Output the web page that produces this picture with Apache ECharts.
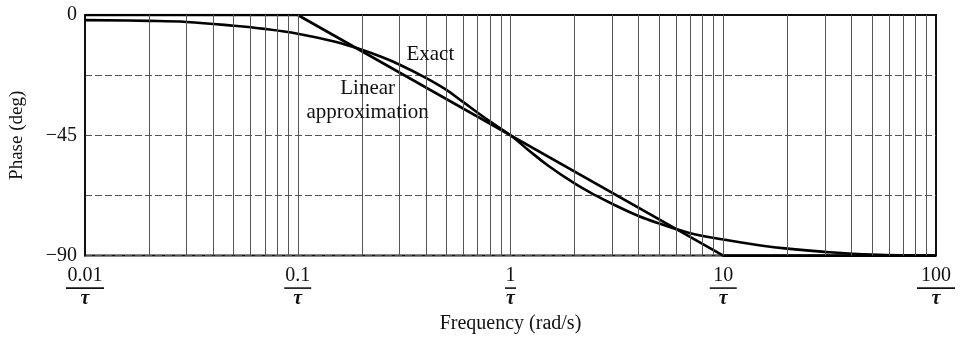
<!DOCTYPE html>
<html>
<head>
<meta charset="utf-8">
<script src="https://cdn.jsdelivr.net/npm/echarts@6/dist/echarts.min.js"></script>
<style>
  html, body { margin: 0; padding: 0; background: #fff; }
  #chart { width: 963px; height: 339px; }
</style>
</head>
<body>
<div id="chart"></div>
<script>
// Normalised frequency ωτ and phase of a first-order lag (degrees)
const exactFreq  = [0.01, 0.02, 0.03, 0.05, 0.07, 0.1, 0.15, 0.2, 0.25, 0.3, 0.4, 0.5, 0.6, 0.8, 1, 1.2, 1.5, 2, 2.5, 3, 4, 5, 7, 10, 15, 20, 30, 50, 100];
const exactPhase = [-1.9, -2.2, -2.6, -4, -5.2, -7, -10, -13, -15.8, -18.5, -23.5, -28, -32.6, -39.8, -45, -50.2, -56.3, -63, -67.4, -70.6, -75.2, -78, -81.6, -84, -86.2, -87.4, -88.6, -89.6, -90];

// Straight-line (asymptotic) approximation
const approxFreq  = [0.01, 0.1, 10, 100];
const approxPhase = [0, 0, -90, -90];

// Tick labels on the frequency axis (numerator over τ)
const decadeTicks  = [0.01, 0.1, 1, 10, 100];
const decadeLabels = ['0.01', '0.1', '1', '10', '100'];

const FONT = '"Liberation Serif", "Times New Roman", serif';

// vertical grid lines: every 1..9 multiple inside each decade
const vLines = [];
for (let d = 0; d < decadeTicks.length - 1; d++) {
  for (let k = 1; k <= 9; k++) {
    if (d === 0 && k === 1) continue;
    vLines.push({ xAxis: decadeTicks[d] * k });
  }
}

const barWidth = { '0.01': 38, '0.1': 27, '1': 11, '10': 27, '100': 38 };

const chart = echarts.init(document.getElementById('chart'), null, { renderer: 'canvas' });

chart.setOption({
  animation: false,
  backgroundColor: '#fff',
  grid: {
    left: 84, right: 27, top: 15, bottom: 82,
    show: true, borderColor: '#111', borderWidth: 2, backgroundColor: 'transparent'
  },
  xAxis: {
    type: 'log',
    logBase: 10,
    min: 0.01,
    max: 100,
    name: 'Frequency (rad/s)',
    nameLocation: 'middle',
    nameGap: 56,
    nameTextStyle: { fontFamily: FONT, fontSize: 20, color: '#111' },
    axisLine: { show: true, lineStyle: { color: '#111', width: 2 } },
    axisTick: { show: false },
    splitLine: { show: false },
    axisLabel: {
      margin: 11,
      formatter: function (v) {
        const idx = decadeTicks.findIndex(t => Math.abs(Math.log10(t) - Math.log10(v)) < 1e-6);
        if (idx < 0) return '';
        const s = decadeLabels[idx];
        return '{n|' + s + '}\n{b' + s.replace('.', '_') + '| }\n{t|τ}';
      },
      rich: Object.assign({
        n: { fontFamily: FONT, fontSize: 20, lineHeight: 19, color: '#111', align: 'center' },
        t: { fontFamily: FONT, fontSize: 20, fontStyle: 'italic', fontWeight: 'bold', lineHeight: 17, color: '#111', align: 'center' }
      }, Object.fromEntries(decadeLabels.map(s => ['b' + s.replace('.', '_'), {
        width: barWidth[s], height: 1.6, lineHeight: 5, backgroundColor: '#111', fontSize: 1, align: 'center'
      }])))
    }
  },
  yAxis: {
    type: 'value',
    min: -90,
    max: 0,
    interval: 22.5,
    name: 'Phase (deg)',
    nameLocation: 'middle',
    nameGap: 58,
    nameTextStyle: { fontFamily: FONT, fontSize: 19, color: '#111' },
    axisLine: { show: true, lineStyle: { color: '#111', width: 2 } },
    axisTick: { show: false },
    axisLabel: {
      margin: 8,
      fontFamily: FONT, fontSize: 20, color: '#111',
      formatter: function (v) {
        if (Math.abs(v % 45) > 1e-6) return '';
        return v === 0 ? '0' : '\u2212' + Math.abs(v);
      }
    },
    splitLine: { show: true, lineStyle: { color: '#555', width: 1, type: [7, 3] } }
  },
  series: [
    {
      name: 'Grid',
      type: 'line',
      data: [],
      silent: true,
      markLine: {
        silent: true,
        symbol: ['none', 'none'],
        label: { show: false },
        lineStyle: { color: '#555', width: 1, type: 'solid' },
        data: vLines
      }
    },
    {
      name: 'Linear approximation',
      type: 'line',
      data: approxFreq.map((f, i) => [f, approxPhase[i]]),
      symbol: 'none',
      lineStyle: { color: '#000', width: 2.6 },
      markPoint: {
        symbol: 'circle', symbolSize: 1,
        itemStyle: { color: 'rgba(0,0,0,0)' },
        label: {
          show: true, position: 'inside', color: '#111',
          fontFamily: FONT, fontSize: 21, lineHeight: 24, align: 'center',
          formatter: 'Linear\napproximation'
        },
        data: [{ coord: [0.213, -31.9] }]
      }
    },
    {
      name: 'Exact',
      type: 'line',
      data: exactFreq.map((f, i) => [f, exactPhase[i]]),
      smooth: 0.4,
      symbol: 'none',
      lineStyle: { color: '#000', width: 2.6 },
      markPoint: {
        symbol: 'circle', symbolSize: 1,
        itemStyle: { color: 'rgba(0,0,0,0)' },
        label: {
          show: true, position: 'inside', color: '#111',
          fontFamily: FONT, fontSize: 21, formatter: 'Exact'
        },
        data: [{ coord: [0.42, -14.9] }]
      }
    }
  ]
});
</script>
</body>
</html>
